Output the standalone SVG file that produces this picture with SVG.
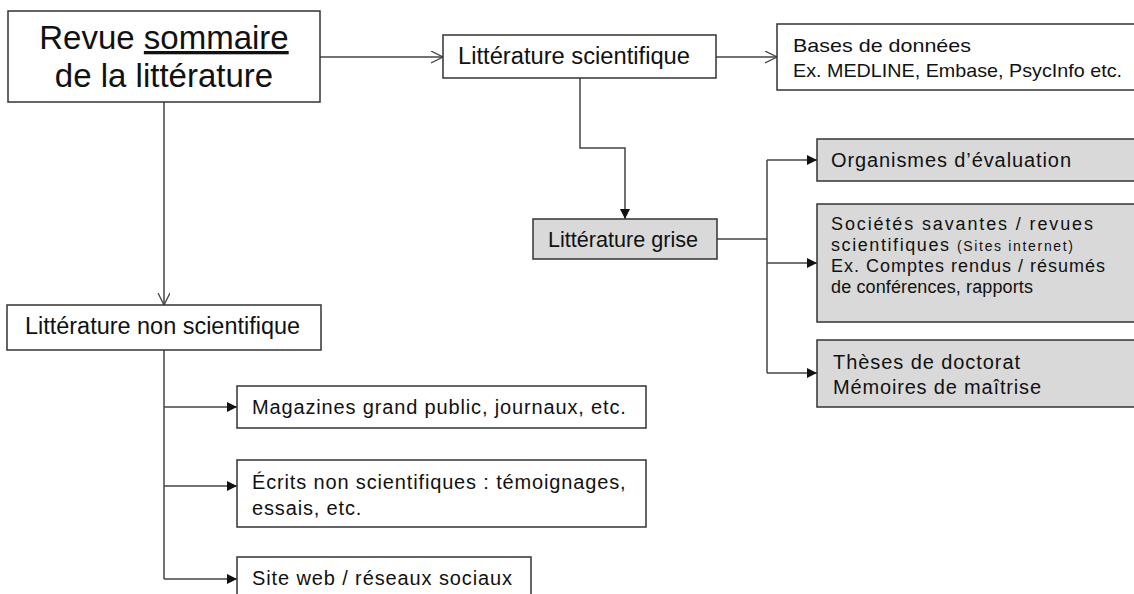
<svg xmlns="http://www.w3.org/2000/svg" width="1134" height="594" viewBox="0 0 1134 594">
<style>
.box{fill:#fff;stroke:#333;stroke-width:1.5}
.grey{fill:#d9d9d9;stroke:#333;stroke-width:1.5}
text{font-family:"Liberation Sans",Arial,sans-serif;fill:#111}
.t33{font-size:33px}
.t23{font-size:23px}
.t22{font-size:22px}
.t20{font-size:20px}
.t19{font-size:19px}
.t18{font-size:18px}
.t14{font-size:14px}
.ls{letter-spacing:0.85px}
.conn{fill:none;stroke:#444;stroke-width:1.5}
</style>
<defs>
<marker id="open" markerUnits="userSpaceOnUse" markerWidth="14" markerHeight="14" refX="12" refY="6" orient="auto">
<path d="M0,0 L12,6 L0,12" fill="none" stroke="#444" stroke-width="1.3"/>
</marker>
<marker id="fill" markerUnits="userSpaceOnUse" markerWidth="12" markerHeight="12" refX="10" refY="5" orient="auto">
<path d="M0,0 L10,5 L0,10 z" fill="#111"/>
</marker>
</defs>
<rect width="1134" height="594" fill="#fff"/>
<g id="connectors">
<path class="conn" d="M320,57 H443" marker-end="url(#open)"/>
<path class="conn" d="M716,57 H777" marker-end="url(#open)"/>
<path class="conn" d="M164,102 V305" marker-end="url(#open)"/>
<path class="conn" d="M580,78 V148 H625 V219" marker-end="url(#fill)"/>
<path class="conn" d="M717,239 H767"/>
<path class="conn" d="M767,160 V373"/>
<path class="conn" d="M767,160 H817" marker-end="url(#fill)"/>
<path class="conn" d="M767,263 H817" marker-end="url(#fill)"/>
<path class="conn" d="M767,373 H817" marker-end="url(#fill)"/>
<path class="conn" d="M164,350 V579"/>
<path class="conn" d="M164,407 H237" marker-end="url(#fill)"/>
<path class="conn" d="M164,486 H237" marker-end="url(#fill)"/>
<path class="conn" d="M164,579 H237" marker-end="url(#fill)"/>
</g>
<g id="revue">
<rect class="box" x="8" y="11" width="312" height="91"/>
<text class="t33" x="164" y="49" text-anchor="middle">Revue <tspan text-decoration="underline">sommaire</tspan></text>
<text class="t33" x="164" y="87" text-anchor="middle">de la littérature</text>
</g>
<g id="scientifique">
<rect class="box" x="443" y="35" width="273" height="43"/>
<text class="t23" x="458" y="64" textLength="232" lengthAdjust="spacingAndGlyphs">Littérature scientifique</text>
</g>
<g id="bases">
<rect class="box" x="777" y="24" width="370" height="66"/>
<text class="t19" x="793" y="52" textLength="178" lengthAdjust="spacingAndGlyphs">Bases de données</text>
<text class="t19" x="793" y="77" textLength="329" lengthAdjust="spacingAndGlyphs">Ex. MEDLINE, Embase, PsycInfo etc.</text>
</g>
<g id="grise">
<rect class="grey" x="533" y="219" width="184" height="40"/>
<text class="t22" x="548" y="247" textLength="150" lengthAdjust="spacingAndGlyphs">Littérature grise</text>
</g>
<g id="organismes">
<rect class="grey" x="817" y="139" width="330" height="42"/>
<text class="t20" x="831" y="167" textLength="240" lengthAdjust="spacing">Organismes d’évaluation</text>
</g>
<g id="societes">
<rect class="grey" x="817" y="204" width="330" height="118"/>
<text class="t18" x="831" y="230" textLength="262" lengthAdjust="spacing">Sociétés savantes / revues</text>
<text class="t18" x="831" y="251" textLength="118" lengthAdjust="spacing">scientifiques</text>
<text class="t14" x="957" y="251" textLength="116" lengthAdjust="spacing">(Sites internet)</text>
<text class="t18" x="831" y="272" textLength="274" lengthAdjust="spacing">Ex. Comptes rendus / résumés</text>
<text class="t18" x="831" y="293" textLength="202" lengthAdjust="spacing">de conférences, rapports</text>
</g>
<g id="theses">
<rect class="grey" x="817" y="340" width="330" height="67"/>
<text class="t20" x="833" y="369" textLength="187" lengthAdjust="spacing">Thèses de doctorat</text>
<text class="t20" x="833" y="394" textLength="208" lengthAdjust="spacing">Mémoires de maîtrise</text>
</g>
<g id="nonscientifique">
<rect class="box" x="7" y="305" width="314" height="45"/>
<text class="t23" x="25" y="334" textLength="275" lengthAdjust="spacingAndGlyphs">Littérature non scientifique</text>
</g>
<g id="magazines">
<rect class="box" x="237" y="386" width="409" height="42"/>
<text class="t20 ls" x="252" y="414">Magazines grand public, journaux, etc.</text>
</g>
<g id="ecrits">
<rect class="box" x="237" y="460" width="409" height="67"/>
<text class="t20 ls" x="252" y="489">Écrits non scientifiques : témoignages,</text>
<text class="t20 ls" x="252" y="515">essais, etc.</text>
</g>
<g id="siteweb">
<rect class="box" x="237" y="557" width="294" height="50"/>
<text class="t20" x="252" y="585" textLength="260" lengthAdjust="spacing">Site web / réseaux sociaux</text>
</g>
</svg>
